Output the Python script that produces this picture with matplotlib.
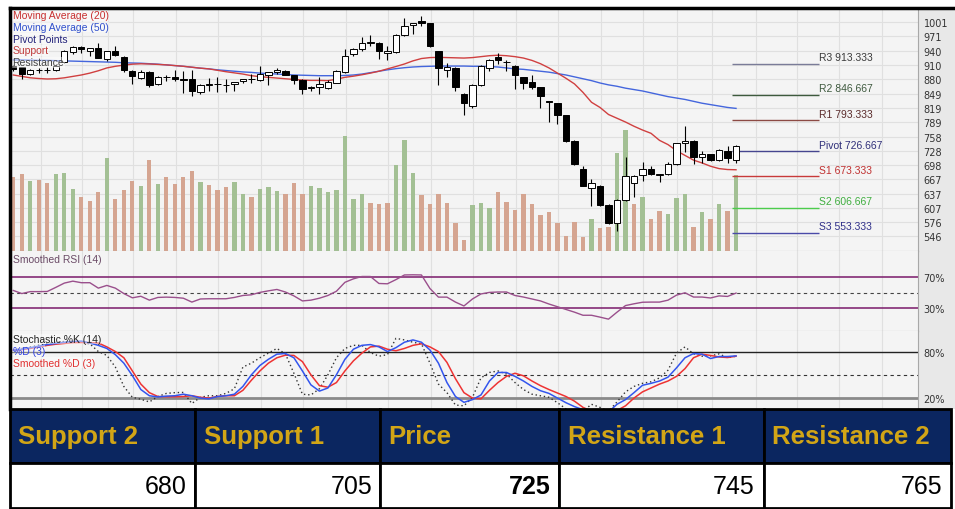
import numpy as np
import matplotlib.pyplot as plt
from matplotlib import transforms

# ---- values (one entry per trading day) ----
opens = [908, 905, 891, 899, 900, 900, 916, 938, 949, 941,
         946, 924, 941, 928, 898, 882, 896, 870, 884, 884,
         880, 880, 852, 868, 870, 867, 870, 877, 880, 878,
         890, 895, 898, 890, 879, 862, 863, 862, 873, 895,
         934, 944, 958, 958, 935, 937, 973, 995, 1004, 999,
         939, 900, 904, 849, 824, 868, 904, 927, 916, 909,
         884, 875, 863, 833, 829, 804, 749, 689, 649, 654,
         613, 574, 624, 659, 676, 689, 676.5, 678.5, 700, 744,
         749, 715, 720, 708, 728, 708]
highs = [910, 906, 901, 904, 905, 910, 942, 950, 951, 947,
         956, 940, 951, 929, 899, 899, 897, 886, 889, 899,
         898, 899, 870, 882, 884, 880, 875, 881, 891, 909,
         896, 903, 900, 890, 880, 865, 884, 878, 899, 944,
         946, 969, 974, 960, 950, 976, 1010, 1000, 1015, 1000,
         941, 915, 905, 850, 870, 910, 924, 935, 920, 910,
         885, 890, 864, 834, 830, 805, 751, 695, 668, 655,
         614, 625, 715, 676, 705, 695, 679, 705, 745, 780,
         751, 728, 721, 731, 739, 740]
lows = [898, 880, 889, 894, 894, 898, 914, 933, 935, 930,
        925, 919, 929, 895, 870, 880, 863, 868, 877, 877,
        850, 845, 848, 856, 853, 853, 856, 873, 873, 876,
        868, 892, 888, 870, 849, 856, 849, 860, 871, 893,
        930, 940, 951, 924, 920, 935, 971, 976, 994, 948,
        868, 884, 856, 804, 819, 866, 898, 912, 898, 859,
        859, 859, 819, 788, 785, 746, 698, 652, 610, 610,
        572, 558, 622, 629, 664, 677, 661, 677, 698, 725,
        700, 702, 707, 707, 702, 702]
closes = [902, 891, 900, 900, 899, 909, 940, 949, 944, 946,
          926, 939, 931, 899, 887, 895, 868, 885, 885, 880,
          879, 856, 868, 869, 870, 868, 875, 880, 881, 891,
          895, 900, 890, 879, 859, 862.5, 869, 875, 897, 929,
          944, 958, 959, 939, 939, 975, 994, 999, 999, 950,
          904, 905, 863, 829, 868, 909, 920, 920, 916.5, 890,
          873, 863, 844, 831, 804, 748, 700, 654, 659, 613,
          574, 624, 675, 675, 689, 678.5, 678.5, 700, 744, 749,
          715, 720, 708, 730, 712.5, 739]
volume = [2230, 2300, 2090, 2130, 2040, 2300, 2350, 1860, 1610, 1490,
          1760, 2800, 1560, 1840, 2110, 1960, 2730, 2010, 2210, 2010,
          2230, 2400, 2060, 1980, 1830, 1910, 2060, 1710, 1610, 1860,
          1910, 1790, 1710, 2030, 1710, 1960, 1880, 1780, 1830, 3450,
          1550, 1700, 1450, 1400, 1430, 2580, 3320, 2350, 1680, 1400,
          1700, 1430, 830, 320, 1380, 1430, 1280, 1770, 1470, 1220,
          1700, 1420, 1070, 1170, 850, 450, 870, 420, 950, 700,
          730, 2930, 3630, 1400, 1620, 950, 1200, 1100, 1580, 1720,
          720, 1170, 970, 1400, 1200, 2280]
vol_up = [0, 0, 1, 0, 0, 1, 1, 1, 0, 0,
          0, 1, 0, 0, 0, 1, 0, 1, 0, 0,
          0, 0, 1, 0, 0, 0, 1, 1, 0, 1,
          1, 1, 0, 0, 0, 1, 1, 1, 1, 1,
          1, 1, 0, 0, 0, 1, 1, 1, 0, 0,
          0, 0, 0, 0, 1, 1, 1, 0, 0, 0,
          0, 0, 0, 0, 0, 0, 0, 0, 1, 0,
          0, 1, 1, 0, 1, 0, 0, 1, 1, 1,
          0, 1, 0, 1, 0, 1]
ma20 = [889, 886, 883, 881.5, 880.5, 881, 883, 886, 889, 893,
        898, 904, 907.5, 910, 912, 912.8, 912.4, 911.5, 910.5, 909,
        907.5, 905.5, 903.5, 902, 899, 896, 893.5, 891, 887.5, 885.5,
        884, 882.5, 881, 879.5, 878.3, 877.5, 877.5, 877, 880, 884,
        886.5, 889.5, 893, 897, 902, 907, 912.4, 919, 924, 926,
        926.5, 926, 925.5, 925, 926, 928, 930, 931, 930, 928,
        925, 920, 913, 904, 893, 882, 870, 852, 831, 820,
        805, 797, 789, 780, 772, 765, 750, 741, 728, 718,
        708, 702, 695, 690, 688, 687.5]
ma50 = [921, 921, 920.5, 920, 920, 919.5, 919, 918.5, 918, 917.5,
        917, 916.5, 916, 915, 914.5, 914, 913, 912, 910.5, 909,
        907.5, 905.5, 903.5, 902, 900, 898.5, 897, 895.5, 894.5, 893,
        892, 891, 890, 889, 888.5, 888, 887.5, 887.5, 887.5, 888,
        889, 891, 894, 897, 900, 902.5, 904.5, 906, 907, 907.5,
        908, 908, 908, 908, 907.5, 907.5, 907, 906, 904, 902,
        901, 899, 897, 895, 892, 889, 885, 881, 877, 872,
        868, 865, 861, 858, 855, 851, 847, 843, 840, 837,
        833, 829, 826, 823, 820, 818]
rsi = [53, 49, 51.5, 51.5, 51.7, 57, 62.5, 65, 63, 63,
       56, 59.5, 56, 49, 43.5, 45.5, 40.5, 44, 44.4, 44,
       43, 38, 42, 42.3, 42.3, 42.3, 44, 46.5, 47.4, 50.5,
       52.5, 54.3, 51, 46, 39.5, 40.5, 43, 46.5, 52, 63.5,
       68, 71, 71, 62, 61.6, 67, 73, 73.2, 73, 55.5,
       44.4, 44.4, 38, 33, 42, 48.5, 50.5, 51, 51, 46.5,
       44.5, 42, 39.5, 35.5, 32, 28.5, 25, 21, 21, 18.6,
       16, 25, 33.5, 35.8, 37.8, 38, 38, 40.5, 47, 50,
       44.5, 44.5, 43.3, 46, 45.3, 49.6]
stoch_k = [82, 84, 86, 88, 90, 92, 93, 93, 92, 90,
           80, 75, 60, 35, 21, 18.5, 15, 22, 26, 27,
           27.3, 13, 21, 23, 23, 26, 32, 60, 65, 72,
           78, 84, 77, 52, 25, 24, 32, 50, 72, 84,
           88, 88, 78.7, 74, 76, 97, 95, 92, 90, 65,
           38, 27, 11, 10, 21, 46, 53, 55, 51, 40,
           31, 25, 23, 21, 14, 6, 4, 3, 12, 8,
           3, 15, 28, 35, 39, 41, 46, 56, 78, 86,
           77, 74, 74.4, 77, 72, 74]
stoch_d = [81.7, 83, 85, 87, 89, 90.5, 92, 93, 93.5, 91,
           88, 84, 76, 65, 49, 31, 23, 21.5, 22.5, 23,
           25, 23, 20, 19, 22, 23, 25, 35, 50, 62,
           70, 76.6, 77.5, 72, 55, 37, 29, 33, 50, 70,
           83, 88, 89, 86, 80, 85, 92, 95, 92, 82,
           65, 40, 22, 14.5, 18, 24, 42, 53, 53, 48,
           42, 35, 29.5, 26, 20, 14, 9, 5, 3, 2,
           2, 12, 18, 27, 36.5, 39, 42, 47, 59, 72,
           77.4, 76.6, 71, 73.6, 73.6, 74.4]
stoch_sd = [81.7, 82.5, 84, 86, 88, 89.5, 90.5, 91.5, 91.6, 91.6,
            91, 86, 80, 72, 55, 38, 27, 22, 21.7, 21.7,
            22, 23, 21, 20, 22, 23, 23, 30, 43, 55,
            65, 72, 75.3, 75, 67, 50, 36, 34, 40, 55,
            68, 78, 86, 87, 83, 81, 84, 88, 90, 86,
            80, 66, 45, 27, 20, 19, 30, 40, 48, 52,
            48.7, 42, 36, 31, 26.5, 22, 16, 8, 3, 2,
            2, 4, 10, 20, 28, 33, 38, 42, 48, 58,
            72, 76.6, 75, 73, 72.3, 74]

pivot_names = ['R3', 'R2', 'R1', 'Pivot', 'S1', 'S2', 'S3']
pivot_values = [913.333, 846.667, 793.333, 726.667, 673.333, 606.667, 553.333]
pivot_line_colors = ['#7a7c98', '#3d5a3d', '#8c4a44', '#45458f', '#c83a3a', '#4ccc4c', '#4a4aa8']
pivot_text_colors = ['#3a3a3a', '#3f5a3f', '#5a2a2a', '#30307a', '#c03030', '#3fae3f', '#30308a']

price_ticks = [546, 576, 607, 637, 667, 698, 728, 758, 789, 819, 849, 880, 910, 940, 971, 1001]
grid_x = [3.2, 8.1, 11.1, 14.1, 19.1, 24.1, 29.1, 34.1, 39.1, 44.1, 49.1, 54.1,
          59.1, 64.1, 69.1, 74.1, 78.0, 82.2, 87.3, 92.2, 97.1, 102.2]

table_header = ['Support 2', 'Support 1', 'Price', 'Resistance 1', 'Resistance 2']
table_values = ['680', '705', '725', '745', '765']

# ---- layout (pixels of a 955 x 510 image) ----
W, H = 955, 510


def rect(x0, y0, x1, y1):
    return [x0 / W, 1 - y1 / H, (x1 - x0) / W, (y1 - y0) / H]


BG = '#f4f4f4'
GRID = '#e0e0e0'
TXT = 'Liberation Sans'

fig = plt.figure(figsize=(9.55, 5.10), dpi=100)

# grey label strip on the right
strip = fig.add_axes(rect(918, 9, 955, 410), zorder=0)
strip.set_facecolor('#e8e8e8')
strip.set_xticks([])
strip.set_yticks([])
for s in strip.spines.values():
    s.set_visible(False)

x = np.arange(len(closes))
xlim = (-0.39, 106.4)


def panel(r):
    a = fig.add_axes(r, zorder=1)
    a.set_facecolor(BG)
    a.set_xlim(*xlim)
    a.set_xticks(grid_x)
    a.tick_params(axis='x', length=0, labelbottom=False)
    a.grid(axis='x', color=GRID, lw=0.8)
    a.set_axisbelow(True)
    for s in a.spines.values():
        s.set_visible(False)
    a.spines['right'].set_visible(True)
    a.spines['right'].set_color('#a8a8a8')
    a.spines['bottom'].set_visible(True)
    a.spines['bottom'].set_color('#a0a0a0')
    a.yaxis.tick_right()
    a.tick_params(axis='y', length=0, pad=4, labelsize=7, labelcolor='#333333')
    return a


# ---- price panel ----
ax = panel(rect(10, 10, 918, 252))
ax.set_ylim(514.8, 1029.3)
ax.set_yticks(price_ticks)
ax.grid(axis='y', color=GRID, lw=0.8)

vol_top = 7260
vol_tr = transforms.blended_transform_factory(
    ax.transData, transforms.Affine2D().scale(1, 1 / vol_top) + ax.transAxes)
vol_colors = ['#a3c094' if u else '#d5a591' for u in vol_up]
ax.bar(x, volume, width=0.5, color=vol_colors, transform=vol_tr, zorder=1)

ax.plot(x, ma50, color='#4466dd', lw=1.0, zorder=2)
ax.plot(x, ma20, color='#d04040', lw=1.0, zorder=2)

o = np.array(opens)
c = np.array(closes)
ax.vlines(x, lows, highs, color='black', lw=0.8, zorder=3)
up = c >= o
body = np.where(np.abs(c - o) < 0.8, 0.8, c - o)
ax.bar(x, body, bottom=o, width=0.74,
       color=np.where(up, 'white', 'black'), edgecolor='black', lw=0.7, zorder=4)

ax.hlines(pivot_values, 84.5, 94.7, colors=pivot_line_colors, lw=1.0, zorder=2)
for name, v, col in zip(pivot_names, pivot_values, pivot_text_colors):
    ax.text(94.75, v + 3, f'{name} {v:.3f}', color=col, fontsize=7.5,
            family=TXT, va='bottom', ha='left')

legend = [('Moving Average (20)', '#c83030'), ('Moving Average (50)', '#3050cc'),
          ('Pivot Points', '#23237a'), ('Support', '#c03a3a'), ('Resistance', '#444444')]
for k, (t, col) in enumerate(legend):
    fig.text(12.5 / W, 1 - (16.3 + 11.7 * k) / H, t, color=col, fontsize=7.5,
             family=TXT, va='center', ha='left', zorder=5,
             bbox=dict(facecolor='white', alpha=0.45, edgecolor='none', pad=0.3))

# ---- RSI panel ----
ax_rsi = panel(rect(10, 252, 918, 332))
ax_rsi.set_ylim(0.7, 103.9)
ax_rsi.set_yticks([70, 30], ['70%', '30%'])
ax_rsi.axhline(70, color='#7a1a6a', lw=1.1)
ax_rsi.axhline(30, color='#7a1a6a', lw=1.1)
ax_rsi.axhline(50, color='#444444', lw=0.8, ls=(0, (3, 3)))
ax_rsi.plot(x, rsi, color='#9a4f8c', lw=1.0)
fig.text(12.5 / W, 1 - 260 / H, 'Smoothed RSI (14)', color='#6a4a66', fontsize=7.5,
         family=TXT, va='center', ha='left', zorder=5)

# ---- stochastic panel ----
ax_st = panel(rect(10, 332, 918, 410))
ax_st.spines['bottom'].set_visible(False)
ax_st.set_ylim(5.9, 106.5)
ax_st.set_yticks([80, 20], ['80%', '20%'])
ax_st.axhline(80, color='#222222', lw=1.0)
ax_st.axhline(20, color='#8a8a8a', lw=2.0)
ax_st.axhline(50, color='#333333', lw=0.8, ls=(0, (3, 3)))
ax_st.plot(x, stoch_k, color='#333333', lw=1.0, ls=(0, (1, 2)))
ax_st.plot(x, stoch_sd, color='#ee3333', lw=1.1)
ax_st.plot(x, stoch_d, color='#3355ee', lw=1.1)
st_labels = [('Stochastic %K (14)', '#222222'), ('%D (3)', '#3040e0'),
             ('Smoothed %D (3)', '#e03030')]
for k, (t, col) in enumerate(st_labels):
    fig.text(12.5 / W, 1 - (340 + 11.8 * k) / H, t, color=col, fontsize=7.5,
             family=TXT, va='center', ha='left', zorder=5,
             bbox=dict(facecolor='white', alpha=0.45, edgecolor='none', pad=0.3))

# black frame on top and left
frame = fig.add_axes(rect(10, 9, 955, 410), zorder=6)
frame.patch.set_alpha(0)
frame.set_xticks([])
frame.set_yticks([])
for s in frame.spines.values():
    s.set_visible(False)
for side in ('top', 'left'):
    frame.spines[side].set_visible(True)
    frame.spines[side].set_linewidth(2.5)
    frame.spines[side].set_color('black')

# ---- level table ----
ax_tab = fig.add_axes(rect(10, 410, 951, 509), zorder=7)
ax_tab.axis('off')
col_w = [185, 185, 178, 205, 187]
tbl = ax_tab.table(cellText=[table_values], colLabels=table_header,
                   colWidths=[w / sum(col_w) for w in col_w],
                   cellLoc='right', colLoc='left', bbox=[0, 0, 1, 1])
tbl.auto_set_font_size(False)
for (r, cidx), cell in tbl.get_celld().items():
    cell.set_edgecolor('black')
    cell.set_linewidth(2)
    cell.PAD = 0.045
    txt = cell.get_text()
    txt.set_family('Liberation Sans')
    if r == 0:
        cell.set_height(0.55)
        cell.set_facecolor('#0b2660')
        txt.set_color('#d2a516')
        txt.set_fontsize(18.5)
        txt.set_fontweight('bold')
    else:
        cell.set_height(0.45)
        cell.set_facecolor('white')
        txt.set_fontsize(18)
        if table_header[cidx] == 'Price':
            txt.set_fontweight('bold')

fig.savefig('out.png', dpi=100, facecolor='white')
